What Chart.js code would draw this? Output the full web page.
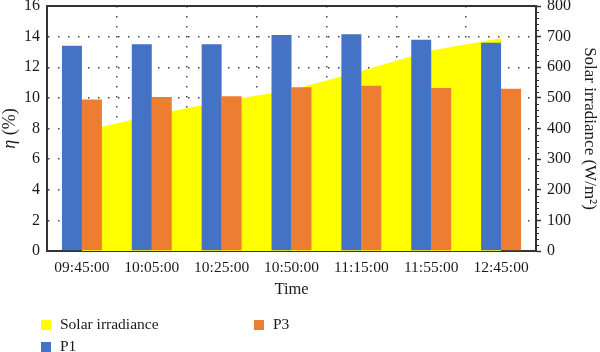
<!DOCTYPE html>
<html>
<head>
<meta charset="utf-8">
<script src="https://cdn.jsdelivr.net/npm/chart.js@4/dist/chart.umd.min.js"></script>
<style>
  body { margin: 0; background: #fff; }
  #wrap { position: relative; width: 600px; height: 352px; overflow: hidden; }
  #chart { position: absolute; left: 0; top: -9px; }
</style>
</head>
<body>
<div id="wrap">
  <canvas id="chart" width="600" height="361"></canvas>
</div>
<script>
// categories and series
const timeLabels = ['09:45:00', '10:05:00', '10:25:00', '10:50:00', '11:15:00', '11:55:00', '12:45:00'];
const p1Values = [13.4, 13.5, 13.5, 14.1, 14.15, 13.8, 13.6];
const p3Values = [9.9, 10.05, 10.1, 10.7, 10.8, 10.65, 10.6];
const solarValues = [390, 443, 489, 526, 588, 655, 695];

const FONT = '"Liberation Serif", "Times New Roman", serif';
const INK = '#1a1a1a';
const AXIS = '#333';
const MINOR_STEP = 20;

// small tick marks on the irradiance axis between the labelled ones
const minorTicks = {
  id: 'minorTicks',
  afterDraw(chart) {
    const s = chart.scales.y1;
    const ctx = chart.ctx;
    ctx.save();
    ctx.strokeStyle = AXIS;
    ctx.lineWidth = 1;
    for (let v = s.min; v <= s.max; v += MINOR_STEP) {
      if (v % 100 === 0) continue;
      const y = Math.round(s.getPixelForValue(v)) + 0.5;
      ctx.beginPath();
      ctx.moveTo(s.left, y);
      ctx.lineTo(s.left + 3, y);
      ctx.stroke();
    }
    ctx.restore();
  }
};

// left axis title, with an italic eta
const etaTitle = {
  id: 'etaTitle',
  afterDraw(chart) {
    const s = chart.scales.y;
    const ctx = chart.ctx;
    const eta = 'η';
    const rest = ' (%)';
    ctx.save();
    ctx.translate(s.left + 10, (s.top + s.bottom) / 2);
    ctx.rotate(-Math.PI / 2);
    ctx.fillStyle = INK;
    ctx.textBaseline = 'middle';
    ctx.font = 'italic 18px ' + FONT;
    const w1 = ctx.measureText(eta).width;
    ctx.font = '18px ' + FONT;
    const w2 = ctx.measureText(rest).width;
    let x = -(w1 + w2) / 2;
    ctx.font = 'italic 18px ' + FONT;
    ctx.fillText(eta, x, 0);
    ctx.font = '18px ' + FONT;
    ctx.fillText(rest, x + w1, 0);
    ctx.restore();
  }
};

// legend in two columns: Solar irradiance / P1 on the left, P3 on the right
const sideLegend = {
  id: 'sideLegend',
  afterDraw(chart) {
    const ctx = chart.ctx;
    const ds = chart.data.datasets;
    const slots = [
      { i: 0, x: 41, y: 329 },
      { i: 2, x: 254, y: 329 },
      { i: 1, x: 41, y: 351 }
    ];
    ctx.save();
    ctx.font = '15.5px ' + FONT;
    ctx.textBaseline = 'middle';
    slots.forEach(s => {
      ctx.fillStyle = ds[s.i].backgroundColor;
      ctx.fillRect(s.x, s.y, 10, 10);
      ctx.fillStyle = INK;
      ctx.fillText(ds[s.i].label, s.x + 19, s.y + 5);
    });
    ctx.restore();
  }
};

new Chart(document.getElementById('chart'), {
  type: 'bar',
  data: {
    labels: timeLabels,
    datasets: [
      {
        type: 'line',
        label: 'Solar irradiance',
        data: solarValues,
        yAxisID: 'y1',
        fill: 'origin',
        backgroundColor: '#FFFF00',
        borderWidth: 0,
        pointRadius: 0,
        tension: 0,
        order: 2
      },
      {
        label: 'P1',
        data: p1Values,
        backgroundColor: '#4472C4',
        categoryPercentage: 0.572,
        barPercentage: 1.0,
        order: 1
      },
      {
        label: 'P3',
        data: p3Values,
        backgroundColor: '#ED7D31',
        categoryPercentage: 0.572,
        barPercentage: 1.0,
        order: 1
      }
    ]
  },
  options: {
    responsive: false,
    animation: false,
    layout: { padding: { top: 0, left: 0, right: 0, bottom: 52 } },
    plugins: {
      legend: { display: false },
      tooltip: { enabled: false }
    },
    scales: {
      x: {
        grid: { color: '#444', lineWidth: 1.5, drawTicks: false, offset: true },
        border: { color: AXIS, width: 2, dash: [1.5, 8.5] },
        ticks: { color: INK, font: { family: FONT, size: 15.5 }, padding: 8, maxRotation: 0 },
        title: { display: true, text: 'Time', color: INK, font: { family: FONT, size: 16.5 }, padding: { top: 2, bottom: 0 } },
        afterFit(scale) { scale.height = 49; }
      },
      xTop: {
        position: 'top',
        grid: { display: false, drawTicks: false },
        ticks: { display: false },
        border: { display: true, color: AXIS, width: 2 }
      },
      y: {
        position: 'left',
        min: 0,
        max: 16,
        ticks: { stepSize: 2, color: INK, font: { family: FONT, size: 16, lineHeight: 1 }, padding: 7 },
        grid: { color: '#444', lineWidth: 1.5, drawTicks: false },
        border: { color: AXIS, width: 2, dash: [1.5, 8.5] },
        afterFit(scale) { scale.width = 47; }
      },
      y1: {
        position: 'right',
        min: 0,
        max: 800,
        ticks: { stepSize: 100, color: INK, font: { family: FONT, size: 16, lineHeight: 1 }, padding: 6 },
        grid: { drawOnChartArea: false, drawTicks: true, tickLength: 5, tickColor: AXIS, tickWidth: 1.5 },
        border: { color: AXIS, width: 2 },
        title: { display: true, text: 'Solar irradiance (W/m²)', color: INK, font: { family: FONT, size: 17 }, padding: 0 },
        afterFit(scale) { scale.width = 64; }
      }
    }
  },
  plugins: [minorTicks, etaTitle, sideLegend]
});
</script>
</body>
</html>
